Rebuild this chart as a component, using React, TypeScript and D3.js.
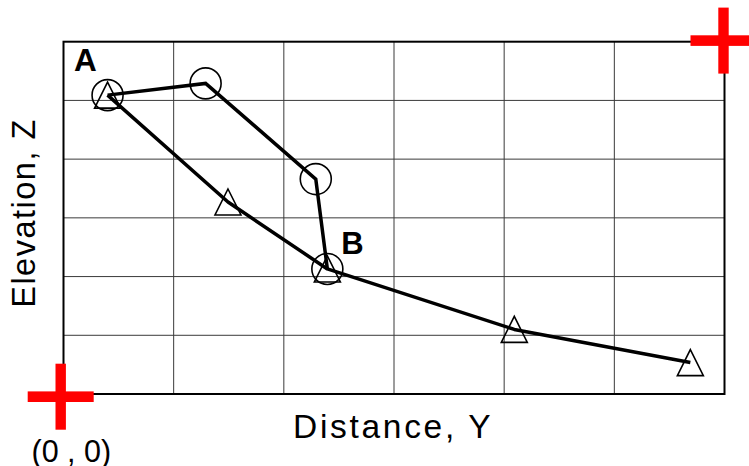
import React from "react";
import * as d3 from "d3";

const W = 749;
const H = 466;

// grid / axis extents (grid units)
const gridX = [0, 1, 2, 3, 4, 5, 6];
const gridZ = [0, 1, 2, 3, 4, 5, 6];

// circle series (A -> B, straight segments)
const circleY = [0.4, 1.29, 2.29, 2.395];
const circleZ = [5.09, 5.29, 3.66, 2.13];

// triangle series (A -> B -> end)
const triY = [0.4, 1.493, 2.395, 4.092, 5.69];
const triZ = [5.09, 3.27, 2.13, 1.1, 0.535];

const labelA = { y: 0.4, z: 5.09, text: "A" };
const labelB = { y: 2.395, z: 2.13, text: "B" };

const FONT = "'Liberation Sans', Arial, Helvetica, sans-serif";

export default function App() {
  const x = d3.scaleLinear().domain([0, 6]).range([63.5, 724.5]);
  const y = d3.scaleLinear().domain([0, 6]).range([394, 41.7]);

  const circlePts: [number, number][] = circleY.map((v, i) => [x(v), y(circleZ[i])]);
  const triPts: [number, number][] = triY.map((v, i) => [x(v), y(triZ[i])]);

  const straight = d3.line();

  const triPath = (cx: number, cy: number) => {
    const p = d3.path();
    p.moveTo(cx, cy - 13);
    p.lineTo(cx + 13, cy + 13);
    p.lineTo(cx - 13, cy + 13);
    p.closePath();
    return p.toString();
  };

  const cross = (cx: number, cy: number, key: string) => (
    <g key={key} fill="#ff0000">
      <rect x={cx - 33} y={cy - 5.3} width={66} height={10.6} />
      <rect x={cx - 5.2} y={cy - 33} width={10.4} height={66} />
    </g>
  );

  return (
    <svg
      width={W}
      height={H}
      style={{ position: "absolute", left: 0, top: 0, background: "#fff" }}
      fontFamily={FONT}
    >
      {/* grid */}
      <g stroke="#3a3a3a" strokeWidth={1}>
        {gridX.slice(1, -1).map((g) => (
          <line key={"gx" + g} x1={x(g)} x2={x(g)} y1={y(0)} y2={y(6)} />
        ))}
        {gridZ.slice(1, -1).map((g) => (
          <line key={"gz" + g} x1={x(0)} x2={x(6)} y1={y(g)} y2={y(g)} />
        ))}
      </g>
      <rect
        x={x(0)}
        y={y(6)}
        width={x(6) - x(0)}
        height={y(0) - y(6)}
        fill="none"
        stroke="#000"
        strokeWidth={2}
      />

      {/* lines */}
      <path d={straight(circlePts) || ""} fill="none" stroke="#000" strokeWidth={3.5} strokeLinejoin="miter" />
      <path d={straight(triPts) || ""} fill="none" stroke="#000" strokeWidth={3.5} strokeLinejoin="round" />

      {/* markers */}
      <g fill="none" stroke="#000" strokeWidth={1.6}>
        {circlePts.map(([cx, cy], i) => (
          <circle key={"c" + i} cx={cx} cy={cy} r={15.5} />
        ))}
        {triPts.map(([cx, cy], i) => (
          <path key={"t" + i} d={triPath(cx, cy)} />
        ))}
      </g>

      {/* point labels */}
      <text x={x(labelA.y) - 33.5} y={y(labelA.z) - 24} fontSize={31.5} fontWeight="bold">
        {labelA.text}
      </text>
      <text x={x(labelB.y) + 14} y={y(labelB.z) - 15} fontSize={31} fontWeight="bold">
        {labelB.text}
      </text>

      {/* red crosses */}
      {cross(x(0) - 2.8, y(0) + 2.7, "o")}
      {cross(x(6) - 1, y(6) - 1.1, "e")}

      {/* axis titles */}
      <text x={293} y={438} fontSize={33.5} letterSpacing={2.7}>
        Distance, Y
      </text>
      <text
        transform={`translate(35, 213) rotate(-90)`}
        textAnchor="middle"
        fontSize={32.5}
        letterSpacing={1.5}
      >
        Elevation, Z
      </text>
      <text x={31.5} y={461.5} fontSize={30.5}>
        (0 , 0)
      </text>
    </svg>
  );
}
